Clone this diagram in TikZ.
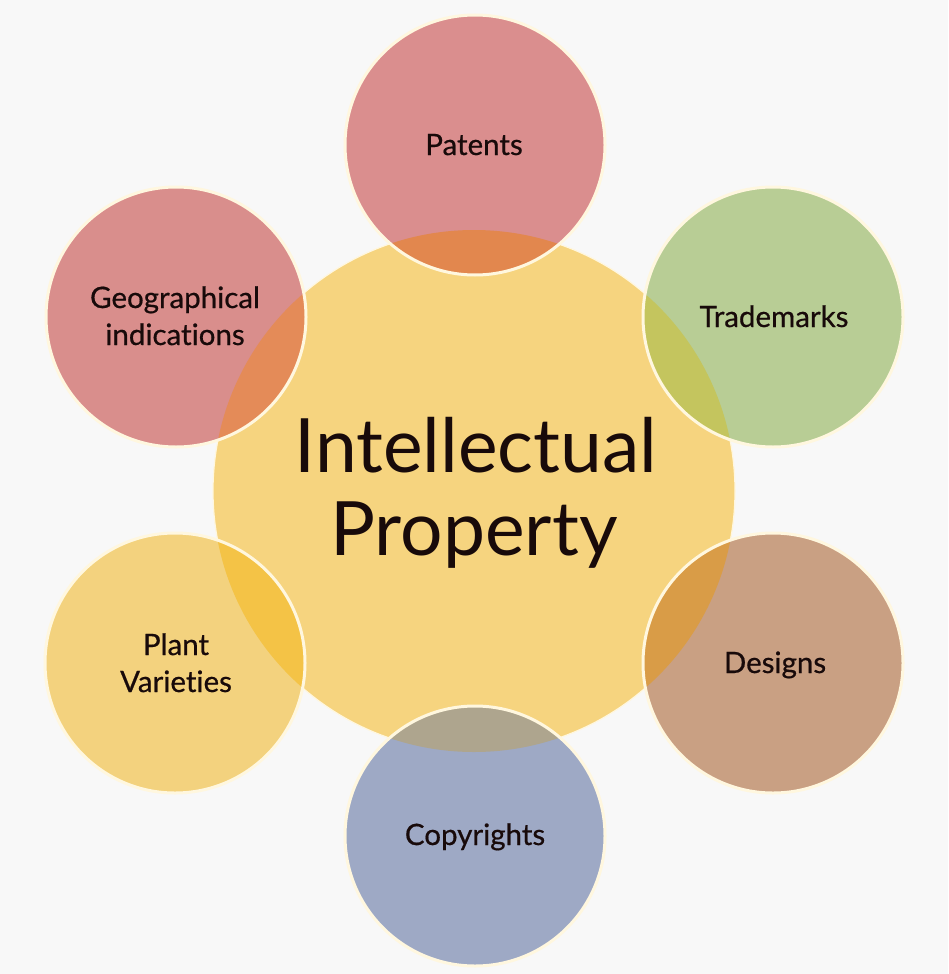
\documentclass[tikz,border=0pt]{standalone}
\usepackage{fontspec}
\setmainfont{Lato}[Ligatures=NoCommon]
\newfontfamily\lblfont{Lato}[Ligatures=NoCommon, FakeBold=0.6]
\definecolor{bgc}{HTML}{F8F8F8}
\definecolor{hubc}{HTML}{F6D47F}
\definecolor{rimc}{HTML}{FFF7DF}
\definecolor{patc}{HTML}{DA8E8E}
\definecolor{patx}{HTML}{E2874E}
\definecolor{geoc}{HTML}{D98E8C}
\definecolor{geox}{HTML}{E48B58}
\definecolor{trac}{HTML}{B8CD95}
\definecolor{trax}{HTML}{C4C55E}
\definecolor{desc}{HTML}{C9A083}
\definecolor{desx}{HTML}{D99C47}
\definecolor{copc}{HTML}{9EA9C5}
\definecolor{copx}{HTML}{AEA58E}
\definecolor{plac}{HTML}{F3D27E}
\definecolor{plax}{HTML}{F4C346}
\definecolor{txtc}{HTML}{180A0A}
\tikzset{
  hub/.style={circle, inner sep=0pt, minimum size=522pt, fill=hubc, draw=rimc, line width=1.2pt},
  bubble/.style={circle, inner sep=0pt, minimum size=260pt},
  rim/.style={draw=rimc, line width=3pt},
  lbl/.style={text=txtc, font=\lblfont\fontsize{29.5}{36}\selectfont, anchor=base, inner sep=0pt},
  big/.style={text=txtc, font=\fontsize{75}{83}\selectfont, anchor=base, inner sep=0pt}
}
\begin{document}
\begin{tikzpicture}[x=1pt,y=-1pt]
\fill[bgc] (0,0) rectangle (948,974);
\useasboundingbox (0,0) rectangle (948,974);
% central circle
\node[hub] (ip) at (474,491) {};
% outer circles
\node[bubble, fill=patc] (pat) at (475,145) {};
\node[bubble, fill=trac] (tra) at (773,317) {};
\node[bubble, fill=desc] (des) at (773,663) {};
\node[bubble, fill=copc] (cop) at (475,836) {};
\node[bubble, fill=plac] (pla) at (175,663) {};
\node[bubble, fill=geoc] (geo) at (176,317) {};
% overlaps
\begin{scope}
  \clip (ip.center) circle[radius=261pt];
  \fill[patx] (pat.center) circle[radius=130pt];
  \fill[trax] (tra.center) circle[radius=130pt];
  \fill[desx] (des.center) circle[radius=130pt];
  \fill[copx] (cop.center) circle[radius=130pt];
  \fill[plax] (pla.center) circle[radius=130pt];
  \fill[geox] (geo.center) circle[radius=130pt];
\end{scope}
% rims
\foreach \n in {pat,tra,des,cop,pla,geo}{
  \draw[rim] (\n.center) circle[radius=130pt];
}
% labels
\node[big] (t1) at (476,472) {Intellectual};
\node[big] (t2) at (474,555) {Property};
\node[lbl] (lpat) at (474,155) {Patents};
\node[lbl] (ltra) at (774,327) {Trademarks};
\node[lbl] (ldes) at (775,673) {Designs};
\node[lbl] (lcop) at (475,845) {Copyrights};
\node[lbl] (lpla1) at (176,655) {Plant};
\node[lbl] (lpla2) at (176,692) {Varieties};
\node[lbl] (lgeo1) at (175,308) {Geographical};
\node[lbl] (lgeo2) at (175,345) {indications};
\end{tikzpicture}
\end{document}
